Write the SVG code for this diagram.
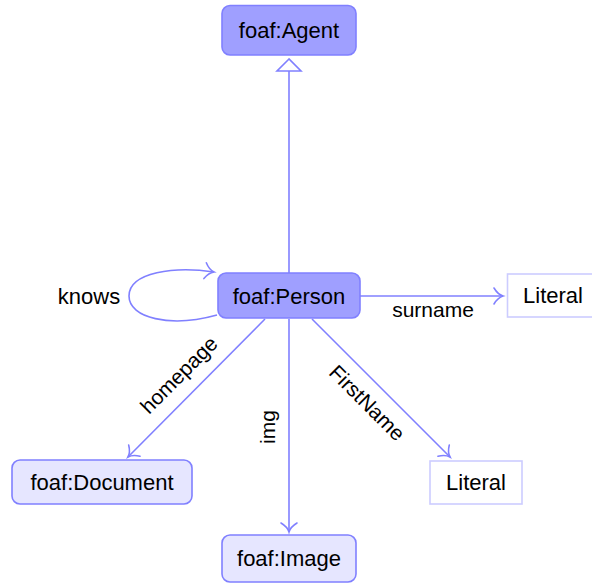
<svg xmlns="http://www.w3.org/2000/svg" width="592" height="583" viewBox="0 0 592 583">
<defs>
<style>
text{font-family:"Liberation Sans",Arial,sans-serif;fill:#000}
.n{font-size:22px;text-anchor:middle}
.l{font-size:21px;text-anchor:middle}
.dark{fill:#9f9fff;stroke:#8080ff;stroke-width:1.6}
.light{fill:#e6e6ff;stroke:#8080ff;stroke-width:1.6}
.lit{fill:#fff;stroke:#ccccff;stroke-width:1.6}
.e{fill:none;stroke:#8080ff;stroke-width:1.6}
</style>
<marker id="to" viewBox="-12 -10 14 20" refX="0" refY="0" markerWidth="14" markerHeight="20" markerUnits="userSpaceOnUse" orient="auto" overflow="visible">
<path d="M-9,-8 C-6,-3 -2,-0.6 0,0 C-2,0.6 -6,3 -9,8" fill="none" stroke="#8080ff" stroke-width="1.6" stroke-linecap="round"/>
</marker>
</defs>
<g id="connectors">
<line class="e" x1="289" y1="273" x2="289" y2="71"/>
<polygon points="289,59 277,71 301,71" fill="#fff" stroke="#8080ff" stroke-width="1.6" stroke-linejoin="miter"/>
<path class="e" d="M217,315 C170,328 129,318 129,296 C129,272 175,266 214,272" marker-end="url(#to)"/>
<line class="e" x1="360" y1="296" x2="503" y2="296" marker-end="url(#to)"/>
<line class="e" x1="265" y1="319" x2="128" y2="457" marker-end="url(#to)"/>
<line class="e" x1="289" y1="319" x2="289" y2="532" marker-end="url(#to)"/>
<line class="e" x1="312" y1="319" x2="450" y2="457" marker-end="url(#to)"/>
<text class="l" x="89" y="304" style="font-size:22px">knows</text>
<text class="l" x="433" y="317">surname</text>
<text class="l" transform="translate(184,380) rotate(-45)">homepage</text>
<text class="l" transform="translate(275,427) rotate(-90)">img</text>
<text class="l" transform="translate(362,408) rotate(45)">FirstName</text>
</g>
<g id="agent">
<rect class="dark" x="222" y="5.5" width="134" height="49.5" rx="8"/>
<text class="n" x="289" y="38">foaf:Agent</text>
</g>
<g id="person">
<rect class="dark" x="218" y="273" width="142" height="45" rx="8"/>
<text class="n" x="289" y="304">foaf:Person</text>
</g>
<g id="literal1">
<rect class="lit" x="507.5" y="274" width="92" height="43"/>
<text class="n" x="553" y="303">Literal</text>
</g>
<g id="document">
<rect class="light" x="12" y="460" width="180" height="44" rx="8"/>
<text class="n" x="102" y="490">foaf:Document</text>
</g>
<g id="image">
<rect class="light" x="222" y="535" width="134" height="47" rx="8"/>
<text class="n" x="289" y="566">foaf:Image</text>
</g>
<g id="literal2">
<rect class="lit" x="430" y="461" width="92" height="43"/>
<text class="n" x="476" y="490">Literal</text>
</g>
</svg>
